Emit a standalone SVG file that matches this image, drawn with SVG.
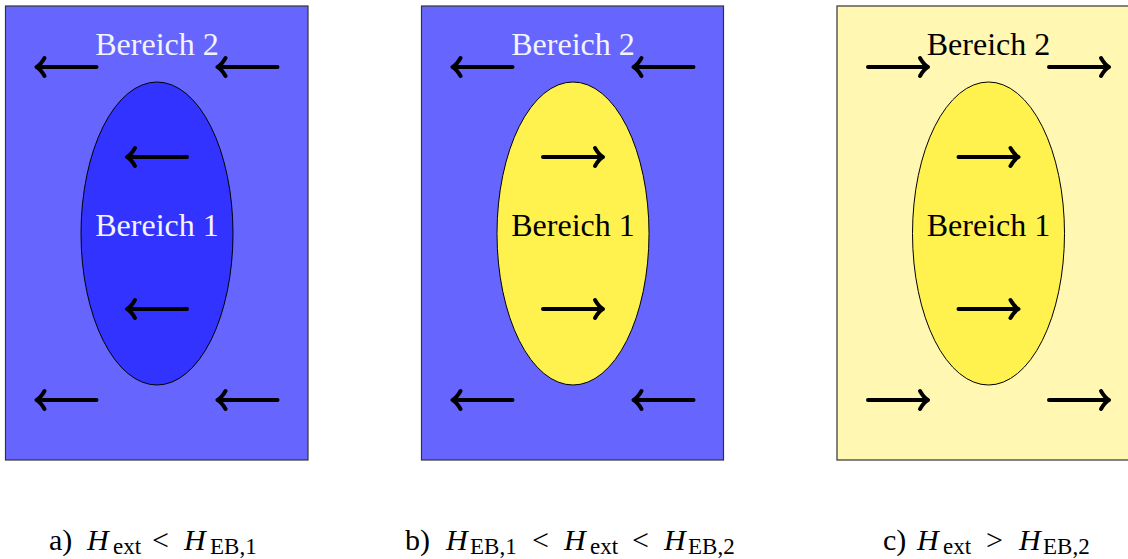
<svg xmlns="http://www.w3.org/2000/svg" width="1128" height="559" viewBox="0 0 1128 559">
<style>
.bg{stroke:#333;stroke-width:1.2}
.el{stroke:#000;stroke-width:1}
.t{font-family:"Liberation Serif","Times New Roman",serif;font-size:32px;text-anchor:middle}
.w{fill:#f4f4ff}
.k{fill:#000}
.cap{font-family:"Liberation Serif","Times New Roman",serif;font-size:30px;fill:#000}
.i{font-style:italic}
.s{font-size:23px}
.ar{stroke:#000;stroke-width:4;fill:none;stroke-linecap:round;stroke-linejoin:round}
</style>
<defs>
<path id="L" class="ar" d="M60,0 H0.5 M8,-9 Q4,-2 0,0 Q4,2 8,9"/>
<path id="R" class="ar" d="M0,0 H59.5 M52,-9 Q56,-2 60,0 Q56,2 52,9"/>
</defs>
<g id="panel-a">
<rect class="bg" x="5.5" y="6" width="302.5" height="454" fill="#6666ff"/>
<ellipse class="el" cx="157" cy="233.5" rx="76" ry="151.5" fill="#3333ff"/>
<text class="t w" x="157" y="55">Bereich 2</text>
<text class="t w" x="157" y="236">Bereich 1</text>
</g>
<g id="panel-b">
<rect class="bg" x="421.5" y="6" width="302" height="454" fill="#6666ff"/>
<ellipse class="el" cx="573" cy="233.5" rx="76" ry="151.5" fill="#fff24f"/>
<text class="t w" x="573" y="55">Bereich 2</text>
<text class="t k" x="573" y="236">Bereich 1</text>
</g>
<g id="panel-c">
<rect class="bg" x="837" y="6" width="302" height="454" fill="#fff7b2"/>
<ellipse class="el" cx="988.5" cy="233.5" rx="76" ry="151.5" fill="#fff24f"/>
<text class="t k" x="988.5" y="55">Bereich 2</text>
<text class="t k" x="988.5" y="236">Bereich 1</text>
</g>
<g id="connectors">
<use href="#L" x="36.5" y="67"/>
<use href="#L" x="217.5" y="67"/>
<use href="#L" x="127" y="157"/>
<use href="#L" x="127" y="309"/>
<use href="#L" x="36.5" y="400"/>
<use href="#L" x="217.5" y="400"/>
<use href="#L" x="452.5" y="67"/>
<use href="#L" x="633.5" y="67"/>
<use href="#R" x="543" y="157"/>
<use href="#R" x="543" y="309"/>
<use href="#L" x="452.5" y="400"/>
<use href="#L" x="633.5" y="400"/>
<use href="#R" x="868" y="67"/>
<use href="#R" x="1049" y="67"/>
<use href="#R" x="958.5" y="157"/>
<use href="#R" x="958.5" y="309"/>
<use href="#R" x="868" y="400"/>
<use href="#R" x="1049" y="400"/>
</g>
<g id="captions">
<text class="cap" y="550"><tspan x="49">a)</tspan><tspan class="i" x="87">H</tspan><tspan class="s" x="113" y="554">ext</tspan><tspan x="152" y="550">&lt;</tspan><tspan class="i" x="184">H</tspan><tspan class="s" x="210" y="554">EB,1</tspan></text>
<text class="cap" y="550"><tspan x="405">b)</tspan><tspan class="i" x="446">H</tspan><tspan class="s" x="470" y="554">EB,1</tspan><tspan x="532" y="550">&lt;</tspan><tspan class="i" x="564">H</tspan><tspan class="s" x="590" y="554">ext</tspan><tspan x="632" y="550">&lt;</tspan><tspan class="i" x="664">H</tspan><tspan class="s" x="688" y="554">EB,2</tspan></text>
<text class="cap" y="550"><tspan x="883">c)</tspan><tspan class="i" x="917">H</tspan><tspan class="s" x="943" y="554">ext</tspan><tspan x="986" y="550">&gt;</tspan><tspan class="i" x="1019">H</tspan><tspan class="s" x="1043" y="554">EB,2</tspan></text>
</g>
</svg>
